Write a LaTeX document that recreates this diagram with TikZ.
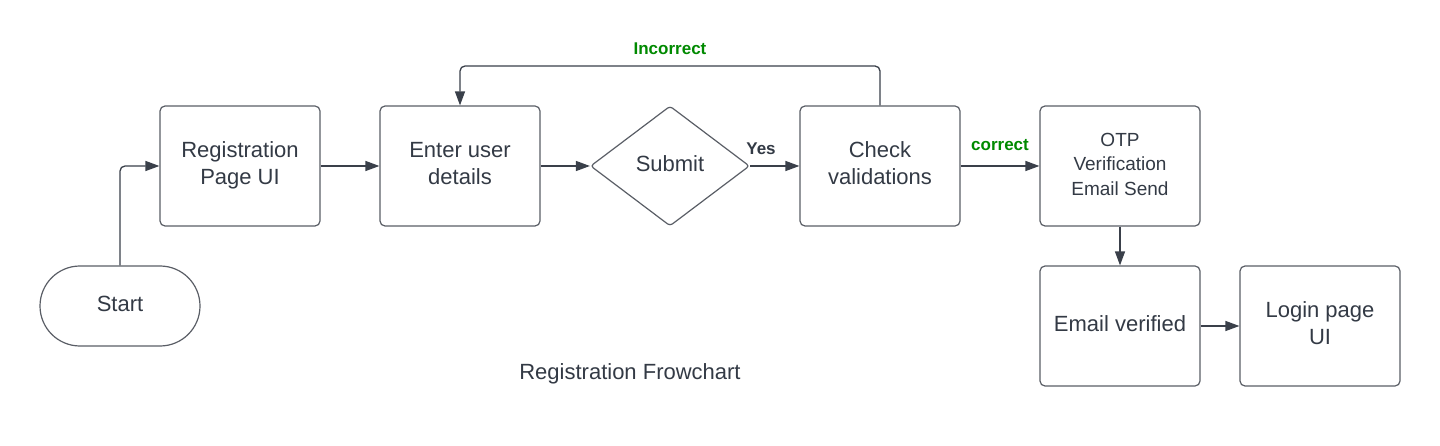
\documentclass[tikz,border=0pt]{standalone}
\usepackage{fontspec}
\setmainfont{Liberation Sans}
\usetikzlibrary{arrows.meta,shapes.geometric}
\definecolor{txt}{HTML}{333A45}
\definecolor{edgec}{HTML}{5A5E66}
\definecolor{conn}{HTML}{3A404A}
\definecolor{grn}{HTML}{008A00}
\newcommand\txtlines[1]{\begin{tabular}{@{}c@{}}#1\end{tabular}}
\begin{document}
\begin{tikzpicture}[x=1pt,y=-1pt,
  box/.style={draw=edgec,line width=1.2pt,rounded corners=5pt,minimum width=160pt,minimum height=120pt,inner sep=0pt,text=txt,font=\fontsize{22}{27}\selectfont},
  otpbox/.style={box,font=\fontsize{19}{24.5}\selectfont},
  startbox/.style={draw=edgec,line width=1.2pt,rounded corners=40pt,minimum width=160pt,minimum height=80pt,inner sep=0pt,text=txt,font=\fontsize{22}{27}\selectfont},
  decision/.style={diamond,draw=edgec,line width=1.2pt,rounded corners=3pt,minimum width=159pt,minimum height=120pt,inner sep=0pt,text=txt,font=\fontsize{22}{27}\selectfont},
  conn/.style={draw=conn,line width=1.3pt,-{Triangle[length=14pt,width=10pt]},rounded corners=5pt},
  lbl/.style={font=\bfseries\fontsize{17}{20}\selectfont,inner sep=0pt},
  caption/.style={text=txt,font=\fontsize{22}{27}\selectfont,inner sep=0pt}
]
\useasboundingbox[fill=white] (0,0) rectangle (1440,446);

\node[startbox] (start) at (120,306) {\txtlines{Start}};
\node[box] (reg) at (240,166) {\txtlines{Registration\\Page UI}};
\node[box] (enter) at (460,166) {\txtlines{Enter user\\details}};
\node[decision] (submit) at (670,166) {\txtlines{Submit}};
\node[box] (check) at (880,166) {\txtlines{Check\\validations}};
\node[otpbox] (otp) at (1120,166) {\txtlines{OTP\\Verification\\Email Send}};
\node[box] (email) at (1120,326) {\txtlines{Email verified}};
\node[box] (login) at (1320,326) {\txtlines{Login page\\UI}};

\coordinate (loopR) at (880,66);
\coordinate (loopL) at (460,66);

\draw[conn] (start.north) |- (reg.west);
\draw[conn] (reg.east) -- (enter.west);
\draw[conn] (enter.east) -- (submit.west);
\draw[conn] (submit.east) -- (check.west);
\draw[conn] (check.east) -- (otp.west);
\draw[conn] (otp.south) -- (email.north);
\draw[conn] (email.east) -- (login.west);
\draw[conn] (check.north) -- (loopR) -- (loopL) -- (enter.north);

\node[lbl,text=grn] (lincorrect) at (670,49) {Incorrect};
\node[lbl,text=txt] (lyes) at (761,149) {Yes};
\node[lbl,text=grn] (lcorrect) at (1000,145) {correct};
\node[caption] (cap) at (630,374) {Registration Frowchart};
\end{tikzpicture}
\end{document}
